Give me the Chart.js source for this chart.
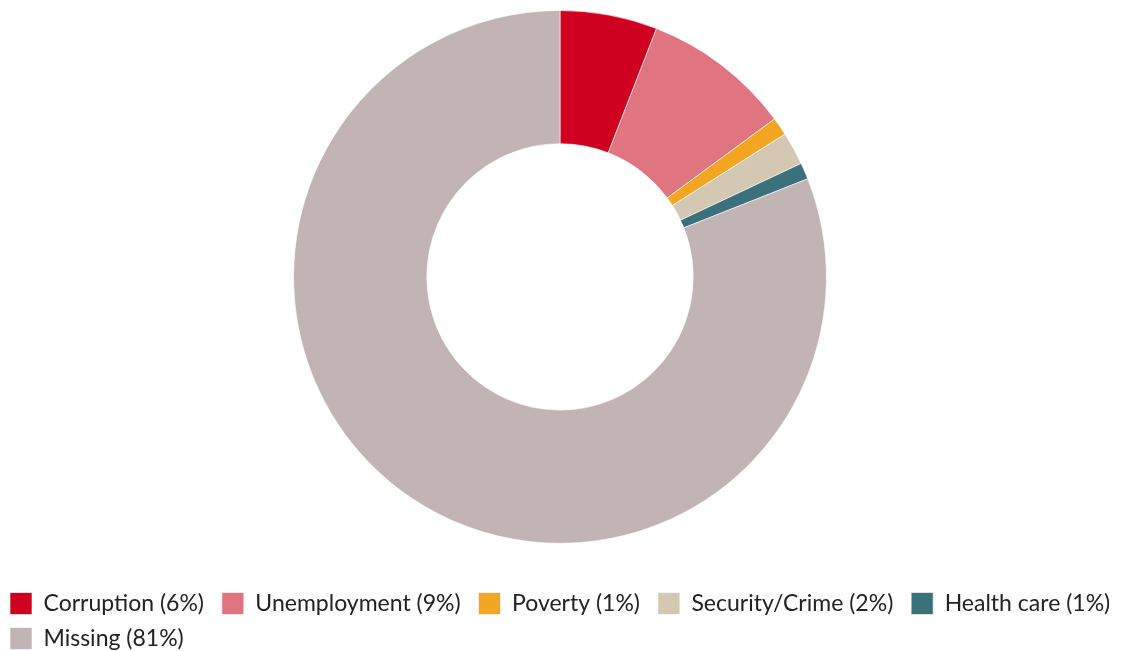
<!DOCTYPE html>
<html>
<head>
<meta charset="utf-8">
<script src="https://cdn.jsdelivr.net/npm/chart.js@4.4.1/dist/chart.umd.min.js"></script>
<style>
  html, body { margin: 0; padding: 0; background: #fff; overflow: hidden; }
  #wrap { width: 1160px; height: 651px; }
</style>
</head>
<body>
<div id="wrap"><canvas id="chart"></canvas></div>
<script>
const categories = ['Corruption', 'Unemployment', 'Poverty', 'Security/Crime', 'Health care', 'Missing'];
const shares = [5.9, 9.0, 1.1, 2.0, 1.0, 81.0];
const shareLabels = ['6%', '9%', '1%', '2%', '1%', '81%'];
const colors = ['#CF0020', '#E07581', '#F4A623', '#D4C7B3', '#3A717A', '#C2B3B4'];

// canvas is a bit wider than the page so the first legend row fits;
// move the doughnut back to the middle of the visible 1122px
const centerDonut = {
  id: 'centerDonut',
  afterLayout(chart) {
    const ca = chart.chartArea;
    const shift = (ca.left + ca.right) / 2 - 560;
    ca.left -= shift;
    ca.right -= shift;
  }
};

new Chart(document.getElementById('chart'), {
  type: 'doughnut',
  data: {
    labels: categories.map((c, i) => `${c} (${shareLabels[i]}) `),
    datasets: [{
      data: shares,
      backgroundColor: colors,
      borderColor: 'rgba(255,255,255,0.6)',
      borderWidth: 1
    }]
  },
  options: {
    responsive: true,
    maintainAspectRatio: false,
    animation: false,
    cutout: '50%',
    layout: { padding: { top: 10, left: -2, right: 0, bottom: -9 } },
    plugins: {
      tooltip: { enabled: false },
      legend: {
        position: 'bottom',
        align: 'start',
        title: { display: true, text: '', font: { size: 1 }, padding: { top: 35, bottom: 0 } },
        labels: {
          boxWidth: 22,
          boxHeight: 22,
          padding: 12,
          color: '#222',
          font: { family: 'Lato', size: 23 }
        }
      }
    }
  },
  plugins: [centerDonut]
});
</script>
</body>
</html>
